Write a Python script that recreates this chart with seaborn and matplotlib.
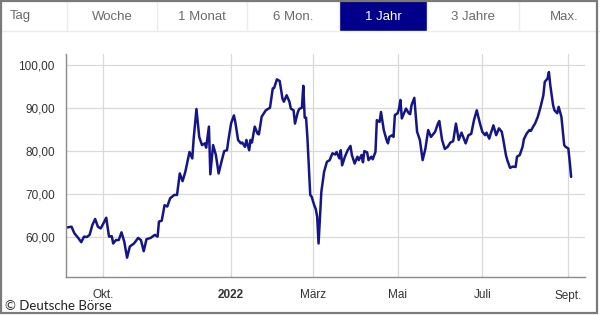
import matplotlib
matplotlib.use("Agg")
import matplotlib.pyplot as plt
from matplotlib.patches import Rectangle
from matplotlib.lines import Line2D
from matplotlib.ticker import FuncFormatter
import seaborn as sns
import pandas as pd

# ---------------- data ----------------
dates = [
    "2021-09-04", "2021-09-08", "2021-09-10", "2021-09-13", "2021-09-15", "2021-09-17", "2021-09-19",
    "2021-09-21", "2021-09-23", "2021-09-25", "2021-09-27", "2021-09-29", "2021-10-01", "2021-10-03",
    "2021-10-05", "2021-10-07", "2021-10-08", "2021-10-10", "2021-10-12", "2021-10-14", "2021-10-16",
    "2021-10-18", "2021-10-20", "2021-10-23", "2021-10-26", "2021-10-28", "2021-10-30", "2021-11-01",
    "2021-11-04", "2021-11-07", "2021-11-09", "2021-11-10", "2021-11-12", "2021-11-14", "2021-11-16",
    "2021-11-18", "2021-11-21", "2021-11-23", "2021-11-25", "2021-11-27", "2021-11-29", "2021-11-30",
    "2021-12-02", "2021-12-04", "2021-12-05", "2021-12-07", "2021-12-09", "2021-12-11", "2021-12-13",
    "2021-12-14", "2021-12-16", "2021-12-17", "2021-12-19", "2021-12-21", "2021-12-23", "2021-12-25",
    "2021-12-27", "2021-12-29", "2021-12-30", "2022-01-01", "2022-01-03", "2022-01-04", "2022-01-06",
    "2022-01-08", "2022-01-09", "2022-01-11", "2022-01-12", "2022-01-14", "2022-01-15", "2022-01-16",
    "2022-01-18", "2022-01-20", "2022-01-21", "2022-01-23", "2022-01-26", "2022-01-29", "2022-01-31",
    "2022-02-01", "2022-02-03", "2022-02-05", "2022-02-07", "2022-02-08", "2022-02-10", "2022-02-12",
    "2022-02-13", "2022-02-15", "2022-02-16", "2022-02-18", "2022-02-19", "2022-02-21", "2022-02-22",
    "2022-02-23", "2022-02-24", "2022-02-25", "2022-02-27", "2022-02-28", "2022-03-02", "2022-03-03",
    "2022-03-04", "2022-03-05", "2022-03-07", "2022-03-09", "2022-03-11", "2022-03-13", "2022-03-15",
    "2022-03-17", "2022-03-18", "2022-03-20", "2022-03-21", "2022-03-22", "2022-03-24", "2022-03-26",
    "2022-03-28", "2022-03-29", "2022-03-31", "2022-04-02", "2022-04-03", "2022-04-05", "2022-04-06",
    "2022-04-07", "2022-04-09", "2022-04-10", "2022-04-12", "2022-04-13", "2022-04-15", "2022-04-16",
    "2022-04-18", "2022-04-19", "2022-04-21", "2022-04-23", "2022-04-24", "2022-04-25", "2022-04-27",
    "2022-04-28", "2022-04-29", "2022-05-01", "2022-05-02", "2022-05-03", "2022-05-04", "2022-05-07",
    "2022-05-09", "2022-05-10", "2022-05-11", "2022-05-13", "2022-05-15", "2022-05-17", "2022-05-19",
    "2022-05-21", "2022-05-23", "2022-05-25", "2022-05-28", "2022-05-30", "2022-05-31", "2022-06-02",
    "2022-06-04", "2022-06-06", "2022-06-08", "2022-06-10", "2022-06-12", "2022-06-14", "2022-06-16",
    "2022-06-17", "2022-06-19", "2022-06-21", "2022-06-23", "2022-06-25", "2022-06-27", "2022-06-29",
    "2022-07-01", "2022-07-03", "2022-07-04", "2022-07-06", "2022-07-07", "2022-07-09", "2022-07-11",
    "2022-07-13", "2022-07-15", "2022-07-16", "2022-07-18", "2022-07-19", "2022-07-21", "2022-07-23",
    "2022-07-25", "2022-07-26", "2022-07-28", "2022-07-30", "2022-07-31", "2022-08-02", "2022-08-04",
    "2022-08-05", "2022-08-07", "2022-08-08", "2022-08-10", "2022-08-12", "2022-08-14", "2022-08-15",
    "2022-08-17", "2022-08-18", "2022-08-19", "2022-08-21", "2022-08-22", "2022-08-24", "2022-08-25",
    "2022-08-27", "2022-08-29", "2022-08-30", "2022-09-01", "2022-09-02", "2022-09-03",
]
prices = [
    62.2, 62.4, 60.9, 59.7, 58.8, 60.1, 60.0,
    60.5, 62.8, 64.2, 62.4, 62.0, 63.2, 64.5,
    60.1, 60.2, 58.5, 59.3, 59.3, 61.1, 58.9,
    55.2, 57.8, 58.5, 59.8, 59.3, 56.7, 59.5,
    59.8, 60.5, 60.1, 63.6, 63.8, 67.4, 67.1,
    69.0, 69.8, 69.8, 74.8, 73.0, 75.2, 76.7,
    79.8, 78.3, 82.9, 89.8, 83.3, 81.4, 81.8,
    80.8, 85.7, 74.6, 81.4, 79.1, 74.8, 77.5,
    80.0, 80.2, 82.5, 86.5, 88.3, 86.8, 82.6,
    81.8, 82.0, 81.0, 82.6, 80.2, 82.6, 82.0,
    85.7, 84.1, 83.9, 88.0, 89.5, 90.1, 94.6,
    94.7, 96.7, 96.3, 92.2, 91.5, 93.0, 91.5,
    89.9, 89.5, 86.4, 89.0, 89.8, 90.1, 95.2,
    87.8, 87.8, 82.9, 69.8, 69.4, 67.3, 66.5,
    64.7, 58.5, 70.5, 75.2, 77.5, 77.9, 79.5,
    79.2, 79.8, 78.3, 80.2, 76.7, 78.7, 80.2,
    81.2, 79.1, 77.1, 78.7, 77.9, 79.1, 77.4,
    80.0, 79.7, 77.9, 78.7, 78.1, 79.8, 87.2,
    86.8, 89.1, 84.9, 82.6, 81.8, 83.3, 83.7,
    83.3, 88.4, 88.8, 89.9, 91.9, 87.6, 89.9,
    88.8, 88.6, 90.7, 92.4, 84.5, 82.6, 77.9,
    80.6, 84.9, 83.3, 84.5, 86.4, 87.0, 82.6,
    80.5, 81.0, 82.0, 82.3, 86.4, 82.6, 84.3,
    83.5, 81.8, 83.7, 84.0, 87.2, 89.5, 86.8,
    84.5, 83.7, 84.3, 82.9, 84.0, 86.0, 83.7,
    85.3, 84.5, 82.9, 79.1, 77.9, 76.1, 76.4,
    76.3, 78.7, 79.1, 81.0, 82.8, 84.1, 84.9,
    84.7, 85.9, 86.4, 88.0, 90.3, 93.0, 96.1,
    96.9, 98.4, 95.3, 90.7, 89.5, 88.8, 90.3,
    88.0, 81.4, 81.0, 80.6, 77.5, 74.0,
]

tab_labels = ["Tag", "Woche", "1 Monat", "6 Mon.", "1 Jahr", "3 Jahre", "Max."]
selected_tab = "1 Jahr"
x_tick_dates = ["2021-10-01", "2022-01-01", "2022-03-01", "2022-05-01", "2022-07-01", "2022-09-01"]
x_tick_labels = ["Okt.", "2022", "März", "Mai", "Juli", "Sept."]
y_ticks = [60, 70, 80, 90, 100]
footer_text = "© Deutsche Börse"

# ---------------- style ----------------
sns.set_theme(style="white")
plt.rcParams["font.family"] = ["Liberation Sans", "DejaVu Sans"]

W, H = 600, 315
fig = plt.figure(figsize=(W / 100, H / 100), dpi=100)
fig.patch.set_facecolor("white")


def fx(x):
    return x / W


def fy(y):
    return 1 - y / H


# plot area in pixels
L, R, T, B = 66, 585, 54, 277
ax = fig.add_axes([fx(L), fy(B), (R - L) / W, (B - T) / H])
ax.set_facecolor("white")

df = pd.DataFrame({"Datum": pd.to_datetime(dates), "Kurs": prices})
sns.lineplot(data=df, x="Datum", y="Kurs", ax=ax, color="#15158a", linewidth=1.8)

ax.set_xlim(pd.Timestamp("2021-09-04"), pd.Timestamp("2022-09-13"))
ax.set_ylim(50.7, 102.6)
ax.set_xlabel("")
ax.set_ylabel("")

ax.set_xticks(pd.to_datetime(x_tick_dates))
ax.set_xticklabels(x_tick_labels)
for lbl in ax.get_xticklabels():
    if lbl.get_text() == "2022":
        lbl.set_fontweight("bold")
ax.set_yticks(y_ticks)
ax.yaxis.set_major_formatter(FuncFormatter(lambda v, p: f"{v:.2f}".replace(".", ",")))

ax.grid(True, color="#d9d9d9", linewidth=0.9)
ax.set_axisbelow(True)
for side in ["top", "right"]:
    ax.spines[side].set_visible(False)
for side in ["left", "bottom"]:
    ax.spines[side].set_color("#8a8a8a")
    ax.spines[side].set_linewidth(1.0)
ax.tick_params(axis="both", which="both", length=4, width=0.9, color="#8a8a8a",
               labelsize=8.5, labelcolor="#333333", direction="out")
ax.tick_params(axis="x", pad=5)
ax.tick_params(axis="y", pad=4)

# ---------------- tab bar ----------------
tab_edges = [-23, 67, 157, 247, 339, 427, 519, 609]
tab_h = 31
for i, lab in enumerate(tab_labels):
    x0, x1 = tab_edges[i], tab_edges[i + 1]
    sel = lab == selected_tab
    fig.add_artist(Rectangle((fx(x0), fy(tab_h)), (x1 - x0) / W, tab_h / H,
                             transform=fig.transFigure,
                             facecolor="#00008b" if sel else "white",
                             edgecolor="none", zorder=1))
    if i > 0:
        fig.add_artist(Line2D([fx(x0), fx(x0)], [fy(tab_h), fy(0)], transform=fig.transFigure,
                              color="#ececec", linewidth=1.0, zorder=2))
    cx = 20 if i == 0 else (x0 + x1) / 2
    fig.text(fx(cx), fy(tab_h / 2 + 1), lab, ha="center", va="center",
             fontsize=9.5, color="white" if sel else "#6a6a6a", zorder=3)
fig.add_artist(Line2D([fx(0), fx(W)], [fy(tab_h), fy(tab_h)], transform=fig.transFigure,
                      color="#ececec", linewidth=1.0, zorder=2))

# ---------------- footer ----------------
fig.text(fx(5), fy(306), footer_text, ha="left", va="center", fontsize=9.5,
         color="#222222", family=["Lato", "DejaVu Sans"])

# outer frame
fig.add_artist(Rectangle((fx(1), fy(313)), 596 / W, 312 / H, transform=fig.transFigure,
                         facecolor="none", edgecolor="#7a7a7a", linewidth=1.6, zorder=5))

fig.savefig("out.png", dpi=100, facecolor="white")
